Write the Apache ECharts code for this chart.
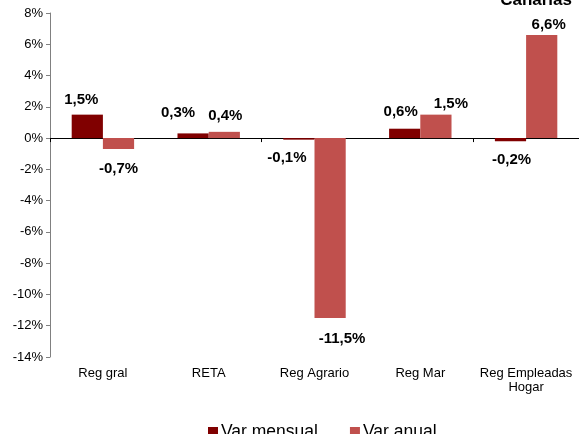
<!DOCTYPE html>
<html><head><meta charset="utf-8">
<script src="https://cdn.jsdelivr.net/npm/echarts@6/dist/echarts.min.js"></script>
<style>html,body{margin:0;padding:0;background:#fff}#c{width:579px;height:434px}</style>
</head><body><div id="c"></div>
<script>
const categories = ['Reg gral', 'RETA', 'Reg Agrario', 'Reg Mar', 'Reg Empleadas\nHogar'];
const varMensual = [1.5, 0.3, -0.1, 0.6, -0.2];
const varAnual = [-0.7, 0.4, -11.5, 1.5, 6.6];
const seriesNames = ['Var mensual', 'Var anual'];
const titleText = 'Canarias';

// label nudges (styling only), [dx, dy] in px
const mensualLabelOffsets = [[-6, -7], [-15, -13], [-12, 11], [-4, -9], [1, 11]];
const anualLabelOffsets = [[0, 12], [1, -8], [12, 13], [15, -3], [7, -3]];

const fmt = v => v.toFixed(1).replace('.', ',') + '%';
const FONT = 'Liberation Sans, Arial, sans-serif';
function labelCfg() {
  return {
    show: true, fontFamily: FONT, fontWeight: 'bold', fontSize: 15, color: '#000',
    formatter: p => fmt(p.value), distance: 0
  };
}
function mkData(arr, offs) {
  return arr.map((v, i) => ({ value: v, label: { position: v >= 0 ? 'top' : 'bottom', offset: offs[i] } }));
}
const chart = echarts.init(document.getElementById('c'), null, { renderer: 'canvas' });
chart.setOption({
  animation: false,
  title: { text: titleText, right: 7, top: -8, padding: 0, textStyle: { fontFamily: FONT, fontSize: 17, fontWeight: 'bold', color: '#000' } },
  legend: {
    data: seriesNames, left: 203, top: 418, itemWidth: 10, itemHeight: 10, itemGap: 32,
    icon: 'rect', textStyle: { fontFamily: FONT, fontSize: 17.5, color: '#000', padding: [0,0,0,-2] }
  },
  grid: { left: 50, right: 0, top: 13, bottom: 77 },
  xAxis: [
    { type: 'category', data: categories, axisLine: { onZero: true, lineStyle: { color: '#000', width: 1 } },
      axisTick: { show: true, length: 4, inside: false, lineStyle: { color: '#000' } }, axisLabel: { show: false } },
    { type: 'category', data: categories, position: 'bottom', axisLine: { show: false, onZero: false },
      axisTick: { show: false }, axisLabel: { interval: 0, fontFamily: FONT, fontSize: 13, color: '#000', margin: 9, lineHeight: 14 } }
  ],
  yAxis: {
    type: 'value', min: -14, max: 8, interval: 2,
    axisLine: { show: true, lineStyle: { color: '#808080' } },
    axisTick: { show: true, length: 4, lineStyle: { color: '#808080' } },
    splitLine: { show: false },
    axisLabel: { fontFamily: FONT, fontSize: 13, color: '#000', margin: 7, formatter: v => v + '%' }
  },
  series: [
    { name: seriesNames[0], type: 'bar', data: mkData(varMensual, mensualLabelOffsets), itemStyle: { color: '#800000' },
      barGap: '0%', barCategoryGap: '41%', label: labelCfg() },
    { name: seriesNames[1], type: 'bar', data: mkData(varAnual, anualLabelOffsets), itemStyle: { color: '#C0504D' },
      barGap: '0%', barCategoryGap: '41%', label: labelCfg() }
  ]
});
</script></body></html>
